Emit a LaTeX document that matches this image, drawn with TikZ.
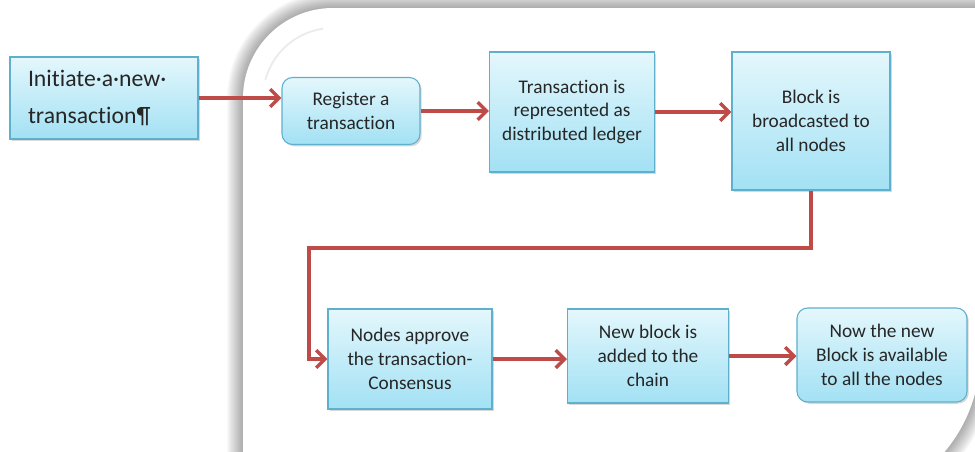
\documentclass[tikz,border=0pt]{standalone}
\usepackage{fontspec}
\setmainfont{Carlito}[Ligatures=NoCommon]
\usetikzlibrary{arrows.meta,shadows}
\definecolor{boxtop}{HTML}{E4F7FC}
\definecolor{boxbot}{HTML}{A2E1F4}
\definecolor{boxline}{HTML}{5FB0CC}
\definecolor{flowred}{HTML}{BE4B48}
\definecolor{txt}{HTML}{262626}
\begin{document}
\begin{tikzpicture}[x=0.02cm,y=-0.02cm,
  stepbox/.style={draw=boxline,line width=0.6pt,top color=boxtop,bottom color=boxbot,
    text=txt,align=center,inner sep=2pt,font=\fontsize{11}{13.6}\selectfont,
    drop shadow={opacity=0.3,shadow xshift=1pt,shadow yshift=-1pt}},
  roundbox/.style={stepbox,rounded corners=6pt},
  flow/.style={draw=flowred,line width=2pt,-{Straight Barb[length=5pt,width=10pt]}}]
\useasboundingbox (0,0) rectangle (975,451);
\begin{scope}
\clip (0,0) rectangle (975,451);
\foreach \d in {1,...,16}
  \fill[black,opacity=0.022] (243-\d,470) -- (243-\d,98) arc[start angle=180,end angle=270,radius=90+\d]
    -- (980+\d,8-\d) -- (980+\d,355) arc[start angle=0,end angle=90,radius=150+\d] -- cycle;
\fill[white] (243,470) -- (243,98) arc[start angle=180,end angle=270,radius=90]
    -- (980,8) -- (980,355) arc[start angle=0,end angle=90,radius=150] -- cycle;
\draw[black!8,line width=1pt] (333,98) ++(195:70) arc[start angle=195,end angle=262,radius=70];
\end{scope}

\node[stepbox,align=left,minimum height=1.64cm,text width=3.04cm,inner xsep=0.36cm,
  font=\fontsize{13.5}{21.5}\selectfont] (init) at (104,98) {Initiate·a·new·\\transaction¶};
\node[roundbox,minimum width=2.76cm,minimum height=1.34cm] (reg) at (351,111) {Register a\\transaction};
\node[stepbox,minimum width=3.3cm,minimum height=2.4cm] (trans) at (572,112) {Transaction is\\represented as\\distributed ledger};
\node[stepbox,minimum width=3.16cm,minimum height=2.76cm] (block) at (811,121) {Block is\\broadcasted to\\all nodes};
\node[stepbox,minimum width=3.28cm,minimum height=2cm] (appr) at (410,359) {Nodes approve\\the transaction-\\Consensus};
\node[stepbox,minimum width=3.22cm,minimum height=1.88cm] (newb) at (648,356) {New block is\\added to the\\chain};
\node[roundbox,minimum width=3.4cm,minimum height=1.88cm] (now) at (882,355) {Now the new\\Block is available\\to all the nodes};
\coordinate (bend) at (309,248);

\draw[flow] (init.east) -- (init.east -| reg.west);
\draw[flow] (reg.east) -- (reg.east -| trans.west);
\draw[flow] (trans.east) -- (trans.east -| block.west);
\draw[flow] (block.south) |- (bend) |- (appr.west);
\draw[flow] (appr.east) -- (appr.east -| newb.west);
\draw[flow] (newb.east) -- (newb.east -| now.west);
\end{tikzpicture}
\end{document}
